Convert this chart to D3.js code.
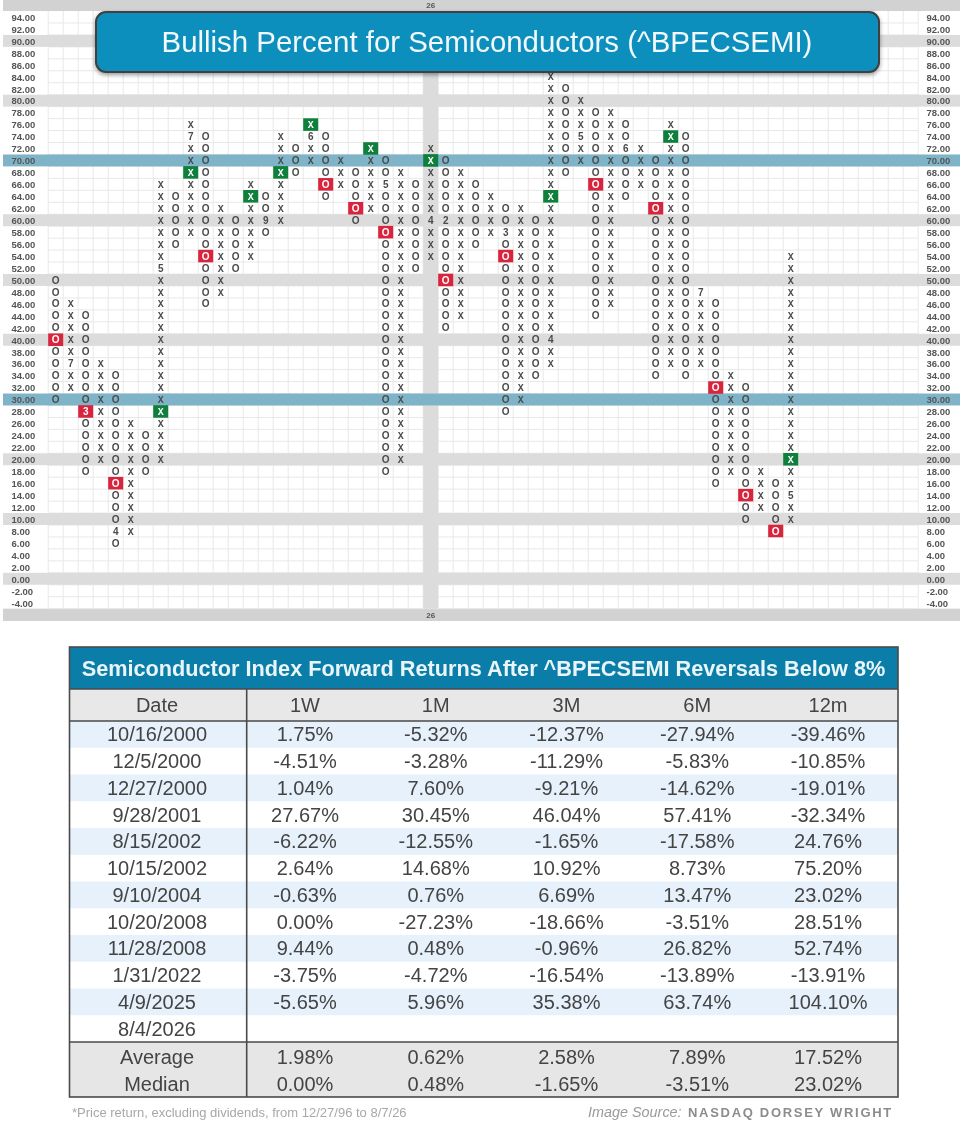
<!DOCTYPE html>
<html>
<head>
<meta charset="utf-8">
<script src="https://cdn.jsdelivr.net/npm/d3@7"></script>
<style>
html, body { margin: 0; padding: 0; background: #fff; }
svg { display: block; filter: blur(0.6px); font-family: "Liberation Sans", sans-serif; }
</style>
</head>
<body>
<div id="chart"></div>
<script>
// point & figure columns, odd index = X, even index = O
const colHigh = [50,46,44,36,34,26,24,66,64,76,74,62,60,66,64,74,72,76,74,70,68,72,70,68,66,72,70,68,66,64,62,62,60,84,82,80,78,78,76,72,70,76,74,48,46,34,32,18,16,54];
const colLow = [30,32,18,20,6,8,18,20,56,58,46,48,52,54,58,60,68,70,64,66,60,62,18,20,52,54,42,44,56,58,28,30,34,36,68,70,44,46,64,66,34,36,34,36,16,18,10,12,8,10];

const greenBoxes = [[7,28,"X"],[9,68,"X"],[13,64,"X"],[15,68,"X"],[17,76,"X"],[21,72,"X"],[25,70,"X"],[33,64,"X"],[41,74,"X"],[49,20,"X"]];
const redBoxes = [[0,40,"O"],[2,28,"3"],[4,16,"O"],[10,54,"O"],[18,66,"O"],[20,62,"O"],[22,58,"O"],[26,50,"O"],[30,54,"O"],[36,66,"O"],[40,62,"O"],[44,32,"O"],[46,14,"O"],[48,8,"O"]];
const monthMarks = [[1,36,"7"],[4,8,"4"],[7,52,"5"],[9,74,"7"],[14,60,"9"],[17,74,"6"],[22,66,"5"],[25,60,"4"],[26,60,"2"],[30,58,"3"],[33,40,"4"],[35,74,"5"],[38,72,"6"],[43,48,"7"],[49,14,"5"]];

const grayRows = [90,80,60,50,40,20,10,0];
const tealRows = [70,30];
const yearCol = 25;
const yearLabel = "26";
const chartTitle = "Bullish Percent for Semiconductors (^BPECSEMI)";

// table
const tableTitle = "Semiconductor Index Forward Returns After ^BPECSEMI Reversals Below 8%";
const periods = ["1W","1M","3M","6M","12m"];
const dates = ["10/16/2000","12/5/2000","12/27/2000","9/28/2001","8/15/2002","10/15/2002","9/10/2004","10/20/2008","11/28/2008","1/31/2022","4/9/2025","8/4/2026"];
const ret1W = ["1.75%","-4.51%","1.04%","27.67%","-6.22%","2.64%","-0.63%","0.00%","9.44%","-3.75%","-5.65%",""];
const ret1M = ["-5.32%","-3.28%","7.60%","30.45%","-12.55%","14.68%","0.76%","-27.23%","0.48%","-4.72%","5.96%",""];
const ret3M = ["-12.37%","-11.29%","-9.21%","46.04%","-1.65%","10.92%","6.69%","-18.66%","-0.96%","-16.54%","35.38%",""];
const ret6M = ["-27.94%","-5.83%","-14.62%","57.41%","-17.58%","8.73%","13.47%","-3.51%","26.82%","-13.89%","63.74%",""];
const ret12M = ["-39.46%","-10.85%","-19.01%","-32.34%","24.76%","75.20%","23.02%","28.51%","52.74%","-13.91%","104.10%",""];
const averages = ["1.98%","0.62%","2.58%","7.89%","17.52%"];
const medians = ["0.00%","0.48%","-1.65%","-3.51%","23.02%"];
const footnote = "*Price return, excluding dividends, from 12/27/96 to 8/7/26";

const width = 960, height = 1126;
const svg = d3.select("#chart").append("svg").attr("width", width).attr("height", height);

const defs = svg.append("defs");
const shadow = defs.append("filter").attr("id", "shadow").attr("x", "-5%").attr("y", "-20%").attr("width", "110%").attr("height", "150%");
shadow.append("feDropShadow").attr("dx", 0).attr("dy", 2).attr("stdDeviation", 2).attr("flood-color", "#000").attr("flood-opacity", 0.4);

// scales
const rowValues = d3.range(94, -6, -2);
const x = d3.scaleLinear().domain([0, 49]).range([55.7, 790.7]);
const y = d3.scaleLinear().domain([94, -4]).range([17, 602.7]);
const colW = x(1) - x(0), rowH = y(92) - y(94);
const gridLeft = x(0) - colW / 2, gridRight = 918;
const gridTop = y(94) - rowH / 2, gridBottom = y(-4) + rowH / 2;
const gridCols = d3.range(0, 59);

// frame bands top and bottom
svg.selectAll(".frame").data([0, gridBottom]).enter().append("rect")
  .attr("x", 3).attr("width", 957)
  .attr("y", d => d)
  .attr("height", (d, i) => i ? 621 - gridBottom : gridTop)
  .attr("fill", "#d2d2d2");

// grid
const grid = svg.append("g").attr("stroke", "#e8e8e8").attr("stroke-width", 1);
grid.selectAll(".v").data(gridCols).enter().append("line")
  .attr("x1", d => gridLeft + d * colW).attr("x2", d => gridLeft + d * colW)
  .attr("y1", gridTop).attr("y2", gridBottom);
grid.selectAll(".h").data(rowValues).enter().append("line")
  .attr("x1", gridLeft).attr("x2", gridRight)
  .attr("y1", d => y(d) + rowH / 2).attr("y2", d => y(d) + rowH / 2);

// highlighted rows and the year column
svg.append("rect")
  .attr("x", x(yearCol) - colW / 2).attr("width", colW)
  .attr("y", gridTop).attr("height", gridBottom - gridTop)
  .attr("fill", "#dcdcdc");
svg.selectAll(".gray").data(grayRows).enter().append("rect")
  .attr("x", 3).attr("width", 957)
  .attr("y", d => y(d) - rowH / 2).attr("height", rowH)
  .attr("fill", "#dcdcdc");
svg.selectAll(".teal").data(tealRows).enter().append("rect")
  .attr("x", 3).attr("width", 957)
  .attr("y", d => y(d) - rowH / 2).attr("height", rowH)
  .attr("fill", "#7fb4c8");

// price labels both sides
const axisFor = () => d3.axisRight(y).tickValues(rowValues).tickSize(0).tickPadding(0).tickFormat(d => d.toFixed(2));
[11.5, 926.5].forEach(px => {
  const g = svg.append("g").attr("transform", `translate(${px},0)`).call(axisFor());
  g.select(".domain").remove();
  g.selectAll("text").attr("font-size", 9.5).attr("fill", "#555").attr("font-weight", "bold").attr("dy", "0.35em");
});

// year label
svg.selectAll(".year").data([5.5, 615]).enter().append("text")
  .attr("x", x(yearCol)).attr("y", d => d).attr("dy", "0.35em")
  .attr("text-anchor", "middle").attr("font-size", 8).attr("font-weight", "bold").attr("fill", "#555")
  .text(yearLabel);

// marks
const cellKey = (c, v) => c + ":" + v;
const specials = new Map();
monthMarks.forEach(d => specials.set(cellKey(d[0], d[1]), d[2]));
const boxed = new Set(greenBoxes.concat(redBoxes).map(d => cellKey(d[0], d[1])));
const cells = [];
colHigh.forEach((hi, c) => {
  d3.range(hi, colLow[c] - 2, -2).forEach(v => {
    if (boxed.has(cellKey(c, v))) return;
    cells.push({ c, v, t: specials.get(cellKey(c, v)) || (c % 2 ? "X" : "O") });
  });
});
svg.append("g").selectAll("text").data(cells).enter().append("text")
  .attr("x", d => x(d.c)).attr("y", d => y(d.v)).attr("dy", "0.36em")
  .attr("text-anchor", "middle")
  .attr("font-size", 10)
  .attr("font-family", d => d.t === "X" ? "Liberation Mono" : "Liberation Sans")
  .attr("font-weight", "bold")
  .attr("fill", "#4a4a4a")
  .text(d => d.t);

function drawBoxes(list, color) {
  const g = svg.append("g").selectAll("g").data(list).enter().append("g");
  g.append("rect")
    .attr("x", d => x(d[0]) - colW / 2).attr("y", d => y(d[1]) - rowH / 2 - 0.3)
    .attr("width", colW).attr("height", rowH + 0.6)
    .attr("fill", color);
  g.append("text")
    .attr("x", d => x(d[0])).attr("y", d => y(d[1])).attr("dy", "0.36em")
    .attr("text-anchor", "middle").attr("font-size", 10).attr("font-weight", "bold")
    .attr("font-family", d => d[2] === "X" ? "Liberation Mono" : "Liberation Sans")
    .attr("fill", "#fff")
    .text(d => d[2]);
}
drawBoxes(greenBoxes, "#0f7f3c");
drawBoxes(redBoxes, "#d8243c");

// title banner
svg.append("rect")
  .attr("x", 96).attr("y", 12).attr("width", 783).attr("height", 60).attr("rx", 10)
  .attr("fill", "#0b8fbd").attr("stroke", "#3f3f3f").attr("stroke-width", 2)
  .attr("filter", "url(#shadow)");
svg.append("text")
  .attr("x", 487).attr("y", 42).attr("dy", "0.35em")
  .attr("text-anchor", "middle").attr("font-size", 29.4).attr("fill", "#f2f8fb")
  .text(chartTitle);

// table geometry
const tLeft = 69.5, tRight = 898, tTop = 647, headTop = 689, bodyTop = 721, bodyBottom = 1042, tBottom = 1097, sep = 246.7;
const rowBand = d3.scaleBand().domain(dates).range([bodyTop, bodyBottom]);
const colX = d3.scalePoint().domain(periods).range([305, 828]);
const dateX = 157;
const series = [ret1W, ret1M, ret3M, ret6M, ret12M];
const textColor = "#444";

svg.append("rect").attr("x", tLeft).attr("y", tTop).attr("width", tRight - tLeft).attr("height", headTop - tTop).attr("fill", "#0a7da8");
svg.append("rect").attr("x", tLeft).attr("y", headTop).attr("width", tRight - tLeft).attr("height", bodyTop - headTop).attr("fill", "#e8e8e8");
svg.selectAll(".stripe").data(dates.filter((d, i) => i % 2 === 0)).enter().append("rect")
  .attr("x", tLeft).attr("width", tRight - tLeft)
  .attr("y", d => rowBand(d)).attr("height", rowBand.bandwidth())
  .attr("fill", "#e6f1fb");
svg.append("rect").attr("x", tLeft).attr("y", bodyBottom).attr("width", tRight - tLeft).attr("height", tBottom - bodyBottom).attr("fill", "#e6e6e6");

svg.append("text").attr("x", 483.5).attr("y", 668.5).attr("dy", "0.35em")
  .attr("text-anchor", "middle").attr("font-size", 21.7).attr("font-weight", "bold").attr("fill", "#eaf5fa")
  .text(tableTitle);

function cell(px, py, t) {
  svg.append("text").attr("x", px).attr("y", py).attr("dy", "0.35em")
    .attr("text-anchor", "middle").attr("font-size", 20).attr("fill", textColor).text(t);
}
cell(dateX, 705, "Date");
periods.forEach(p => cell(colX(p), 705, p));
dates.forEach((d, r) => {
  const py = rowBand(d) + rowBand.bandwidth() / 2;
  cell(dateX, py, d);
  periods.forEach((p, j) => { if (series[j][r]) cell(colX(p), py, series[j][r]); });
});
cell(dateX, 1057, "Average");
cell(dateX, 1084, "Median");
periods.forEach((p, j) => {
  cell(colX(p), 1057, averages[j]);
  cell(colX(p), 1084, medians[j]);
});

// table rules
const rules = svg.append("g").attr("stroke", "#4a4a4a").attr("stroke-width", 1.6).attr("fill", "none");
rules.append("rect").attr("x", tLeft).attr("y", tTop).attr("width", tRight - tLeft).attr("height", tBottom - tTop);
[headTop, bodyTop, bodyBottom].forEach(v => rules.append("line").attr("x1", tLeft).attr("x2", tRight).attr("y1", v).attr("y2", v));
rules.append("line").attr("x1", sep).attr("x2", sep).attr("y1", headTop).attr("y2", tBottom);

// footer
svg.append("text").attr("x", 72).attr("y", 1112).attr("dy", "0.35em")
  .attr("font-size", 13).attr("fill", "#a8a8a8").text(footnote);
svg.append("text").attr("x", 588).attr("y", 1112).attr("dy", "0.35em")
  .attr("font-size", 14.4).attr("font-style", "italic").attr("fill", "#9a9a9a").text("Image Source:");
svg.append("text").attr("x", 688).attr("y", 1112).attr("dy", "0.35em")
  .attr("font-size", 13).attr("font-weight", "bold").attr("letter-spacing", 1.7).attr("fill", "#8c8c8c").text("NASDAQ DORSEY WRIGHT");
</script>
</body>
</html>
